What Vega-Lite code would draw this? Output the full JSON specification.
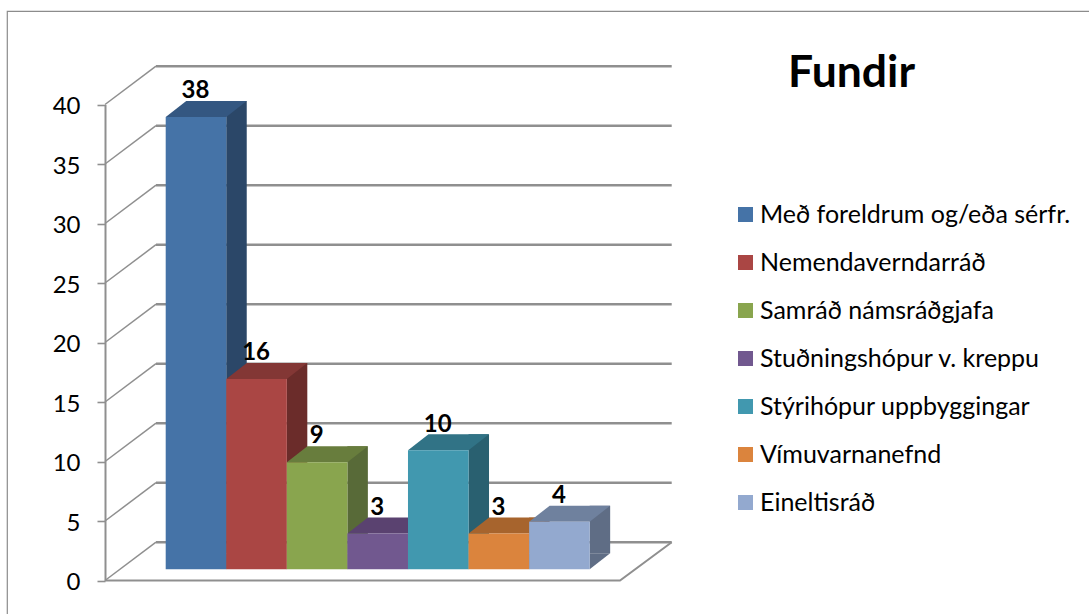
{
"$schema":"https://vega.github.io/schema/vega-lite/v6.json",
"width":1090,"height":610,
"autosize":{"type":"none"},
"padding":{"left":7,"top":11,"right":0,"bottom":0},
"background":"white",
"view":{"stroke":"#8c8c8c","strokeWidth":1.2,"fill":"white"},
"config":{"font":"Lato"},
"title":{"text":"Fundir","anchor":"start","orient":"top","dx":781,"dy":85,"fontSize":44.5,"fontWeight":"bold","font":"Lato","color":"#000000","frame":"group","offset":0},
"datasets":{
"fundir":[
{"Flokkur":"Með foreldrum og/eða sérfr.","Fundir":38},
{"Flokkur":"Nemendaverndarráð","Fundir":16},
{"Flokkur":"Samráð námsráðgjafa","Fundir":9},
{"Flokkur":"Stuðningshópur v. kreppu","Fundir":3},
{"Flokkur":"Stýrihópur uppbyggingar","Fundir":10},
{"Flokkur":"Vímuvarnanefnd","Fundir":3},
{"Flokkur":"Eineltisráð","Fundir":4}
],
"kvardi":[{"Gildi":0},{"Gildi":5},{"Gildi":10},{"Gildi":15},{"Gildi":20},{"Gildi":25},{"Gildi":30},{"Gildi":35},{"Gildi":40}]
},
"layer":[
{"data":{"name":"kvardi"},
 "mark":{"type":"tick","orient":"horizontal","color":"#8f8f8f","size":515.7,"thickness":2.4,"xOffset":-138.15,"yOffset":-38.3,"opacity":1},
 "encoding":{"y":{"field":"Gildi","type":"quantitative","scale":{"domain":[0,40],"range":[569.5,93.5]},
   "axis":{"title":null,"offset":-98,"values":[0,5,10,15,20,25,30,35,40],"tickSize":8,"tickWidth":1.6,"tickColor":"#8f8f8f","domainColor":"#8f8f8f","domainWidth":2,"labelFontSize":24,"labelColor":"#000000","labelPadding":17,"labelFont":"Lato","labelOffset":2,"grid":false}}}},
{"data":{"name":"kvardi"},
 "mark":{"type":"point","shape":"M-447,0L-396,-38.3","size":4,"filled":false,"stroke":"#8f8f8f","strokeWidth":1.5,"opacity":1},
 "encoding":{"y":{"field":"Gildi","type":"quantitative"}}},
{"data":{"values":[{"Gildi":0}]},
 "mark":{"type":"point","shape":"M-447,0L68,0L119.7,-38.3","size":4,"filled":false,"stroke":"#8f8f8f","strokeWidth":2,"opacity":1},
 "encoding":{"y":{"field":"Gildi","type":"quantitative"}}},
{"data":{"name":"fundir"},
 "mark":{"type":"bar","width":20.5,"xOffset":40.5,"yOffset":-27.2,"y2Offset":-27.2},
 "encoding":{
  "x":{"field":"Flokkur","type":"nominal","sort":null,"axis":null,"scale":{"domain":["Með foreldrum og/eða sérfr.","Nemendaverndarráð","Samráð námsráðgjafa","Stuðningshópur v. kreppu","Stýrihópur uppbyggingar","Vímuvarnanefnd","Eineltisráð"],"range":[158.7,582.7],"padding":0}},
  "y":{"field":"Fundir","type":"quantitative","stack":null},
  "y2":{"datum":0},
  "color":{"field":"Flokkur","type":"nominal","sort":null,"legend":null,"scale":{"domain":["Með foreldrum og/eða sérfr.","Nemendaverndarráð","Samráð námsráðgjafa","Stuðningshópur v. kreppu","Stýrihópur uppbyggingar","Vímuvarnanefnd","Eineltisráð"],"range":["#2b4768","#6b2c2a","#586a38","#463659","#296070","#8a5228","#5f6d85"]}}}},
{"data":{"name":"fundir"},
 "mark":{"type":"point","shape":"M30.25,0L50.75,-16L30.25,-16Z","size":4,"filled":true,"opacity":1,"yOffset":-11.2,"stroke":null},
 "encoding":{
  "x":{"field":"Flokkur","type":"nominal","sort":null},
  "y":{"datum":0},
  "color":{"field":"Flokkur","type":"nominal","sort":null,"legend":null,"scale":{"domain":["Með foreldrum og/eða sérfr.","Nemendaverndarráð","Samráð námsráðgjafa","Stuðningshópur v. kreppu","Stýrihópur uppbyggingar","Vímuvarnanefnd","Eineltisráð"],"range":["#2b4768","#6b2c2a","#586a38","#463659","#296070","#8a5228","#5f6d85"]}}}},
{"data":{"name":"fundir"},
 "mark":{"type":"point","shape":"M-30.25,0L30.25,0L50.75,-16L-9.75,-16Z","size":4,"filled":true,"opacity":1,"yOffset":-11.2,"stroke":null},
 "encoding":{
  "x":{"field":"Flokkur","type":"nominal","sort":null},
  "y":{"field":"Fundir","type":"quantitative"},
  "color":{"field":"Flokkur","type":"nominal","sort":null,"legend":null,"scale":{"domain":["Með foreldrum og/eða sérfr.","Nemendaverndarráð","Samráð námsráðgjafa","Stuðningshópur v. kreppu","Stýrihópur uppbyggingar","Vímuvarnanefnd","Eineltisráð"],"range":["#345781","#833735","#687d3d","#5a4270","#317386","#a7642d","#6f819e"]}}}},
{"data":{"name":"fundir"},
 "mark":{"type":"bar","width":{"band":1},"yOffset":-11.2,"y2Offset":-11.2},
 "encoding":{
  "x":{"field":"Flokkur","type":"nominal","sort":null},
  "y":{"field":"Fundir","type":"quantitative","stack":null},
  "y2":{"datum":0},
  "color":{"field":"Flokkur","type":"nominal","sort":null,"scale":{"domain":["Með foreldrum og/eða sérfr.","Nemendaverndarráð","Samráð námsráðgjafa","Stuðningshópur v. kreppu","Stýrihópur uppbyggingar","Vímuvarnanefnd","Eineltisráð"],"range":["#4573a7","#aa4644","#89a54e","#71588f","#4198af","#db843d","#93a9cf"]},
   "legend":{"title":null,"orient":"none","legendX":726,"legendY":191,"symbolType":"square","symbolSize":225,"symbolStrokeWidth":0,"labelFontSize":25,"labelFont":"Lato","labelColor":"#000000","rowPadding":22,"labelOffset":2,"labelLimit":400}}}},
{"data":{"name":"fundir"},
 "mark":{"type":"text","fontSize":24,"fontWeight":"bold","font":"Lato","color":"#000000","baseline":"middle","yOffset":-37,"xOffset":-0.5},
 "encoding":{
  "x":{"field":"Flokkur","type":"nominal","sort":null},
  "y":{"field":"Fundir","type":"quantitative"},
  "text":{"field":"Fundir","type":"quantitative"}}}
],
"resolve":{"scale":{"color":"independent"}}
}
